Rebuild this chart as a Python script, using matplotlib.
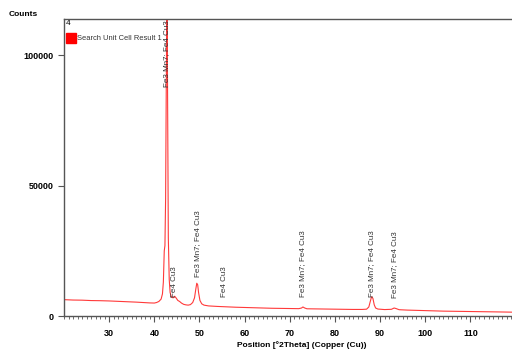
import numpy as np
import matplotlib
matplotlib.use('Agg')
import matplotlib.pyplot as plt
from matplotlib.ticker import MultipleLocator, FixedLocator
from matplotlib.patches import Rectangle

plt.rcParams['font.family'] = ['Liberation Sans', 'DejaVu Sans']

two_theta = [20, 22, 24, 26, 28, 30, 32, 34, 36, 38, 39, 40, 40.5, 41, 41.5, 41.8,
             42.0, 42.2, 42.35, 42.5, 42.65, 42.75, 42.85, 42.95, 43.1, 43.3, 43.5,
             43.8, 44.2, 44.5, 44.8, 45.2, 45.6, 46, 46.5, 47, 47.5, 48, 48.5, 48.9,
             49.2, 49.4, 49.6, 49.8, 50.1, 50.5, 51, 52, 54, 56, 58, 60, 62, 64, 66,
             68, 70, 72, 72.6, 72.9, 73.3, 73.8, 76, 78, 80, 82, 84, 86, 87, 87.5,
             87.8, 88.1, 88.4, 88.7, 89, 89.5, 91, 92.5, 93.1, 93.5, 94.2, 96, 100,
             104, 108, 112, 116, 119.5]
counts = [6300, 6150, 6100, 5950, 5900, 5800, 5650, 5500, 5350, 5150, 5050, 5000, 5200,
          5600, 6500, 8500, 13000, 25000, 27000, 45000, 90000, 114000, 114000, 80000,
          30000, 14000, 9000, 7200, 7000, 7600, 7000, 6000, 5600, 5000, 4500, 4300, 4200,
          4400, 5200, 7000, 10500, 12600, 12000, 9000, 6000, 4700, 4200, 3900, 3700, 3550,
          3400, 3300, 3200, 3100, 3000, 2950, 2900, 2850, 3100, 3500, 3100, 2800, 2750,
          2700, 2650, 2600, 2550, 2550, 2650, 3500, 5500, 7400, 6800, 4300, 3100, 2700,
          2500, 2600, 3100, 2900, 2450, 2300, 2100, 1900, 1800, 1700, 1600, 1500]

# reference pattern markers
peak_pos = [42.8, 44.5, 49.5, 55.5, 72.9, 88.2, 93.2]
peak_names = ['Fe3 Mn7; Fe4 Cu3', 'Fe4 Cu3', 'Fe3 Mn7; Fe4 Cu3', 'Fe4 Cu3',
              'Fe3 Mn7; Fe4 Cu3', 'Fe3 Mn7; Fe4 Cu3', 'Fe3 Mn7; Fe4 Cu3']
label_top = [113500, 19000, 40500, 19000, 33000, 33000, 32500]

x_ticks = [30, 40, 50, 60, 70, 80, 90, 100, 110]
y_ticks = [0, 50000, 100000]

fig = plt.figure(figsize=(5.12, 3.52), dpi=100)
ax = fig.add_axes([0.125, 0.102, 0.875, 0.844])

ax.plot(two_theta, counts, color='#ff3a3a', lw=0.8)

for x, name, top in zip(peak_pos, peak_names, label_top):
    ax.text(x, top, name, rotation=90, ha='center', va='top', fontsize=5.8, color='#333333')

ax.set_xlim(20, 119.2)
ax.set_ylim(0, 113800)
ax.xaxis.set_major_locator(FixedLocator(x_ticks))
ax.xaxis.set_minor_locator(MultipleLocator(1))
ax.set_yticks(y_ticks)
ax.tick_params(axis='both', which='major', direction='out', length=4, width=0.8,
               color='#555555', labelsize=6.5)
ax.tick_params(axis='x', which='minor', direction='out', length=2.5, width=0.6, color='#555555')
ax.tick_params(axis='x', pad=5)
for lab in ax.get_xticklabels() + ax.get_yticklabels():
    lab.set_fontweight('bold')
for side in ['left', 'top', 'bottom']:
    ax.spines[side].set_color('#555555')
    ax.spines[side].set_linewidth(1.0)
ax.spines['right'].set_visible(False)

# legend box
ax.text(0.004, 0.995, '4', transform=ax.transAxes, ha='left', va='top', fontsize=6)
ax.add_patch(Rectangle((0.004, 0.918), 0.022, 0.035, transform=ax.transAxes,
                       color='#ff0000', clip_on=False))
ax.text(0.03, 0.936, 'Search Unit Cell Result 1', transform=ax.transAxes,
        ha='left', va='center', fontsize=5.4, color='#333333')

fig.text(0.016, 0.96, 'Counts', fontsize=6, fontweight='bold', ha='left', va='center')
fig.text(0.59, 0.02, 'Position [°2Theta] (Copper (Cu))', fontsize=6, fontweight='bold',
         ha='center', va='center')

fig.savefig('out.png', dpi=100)
